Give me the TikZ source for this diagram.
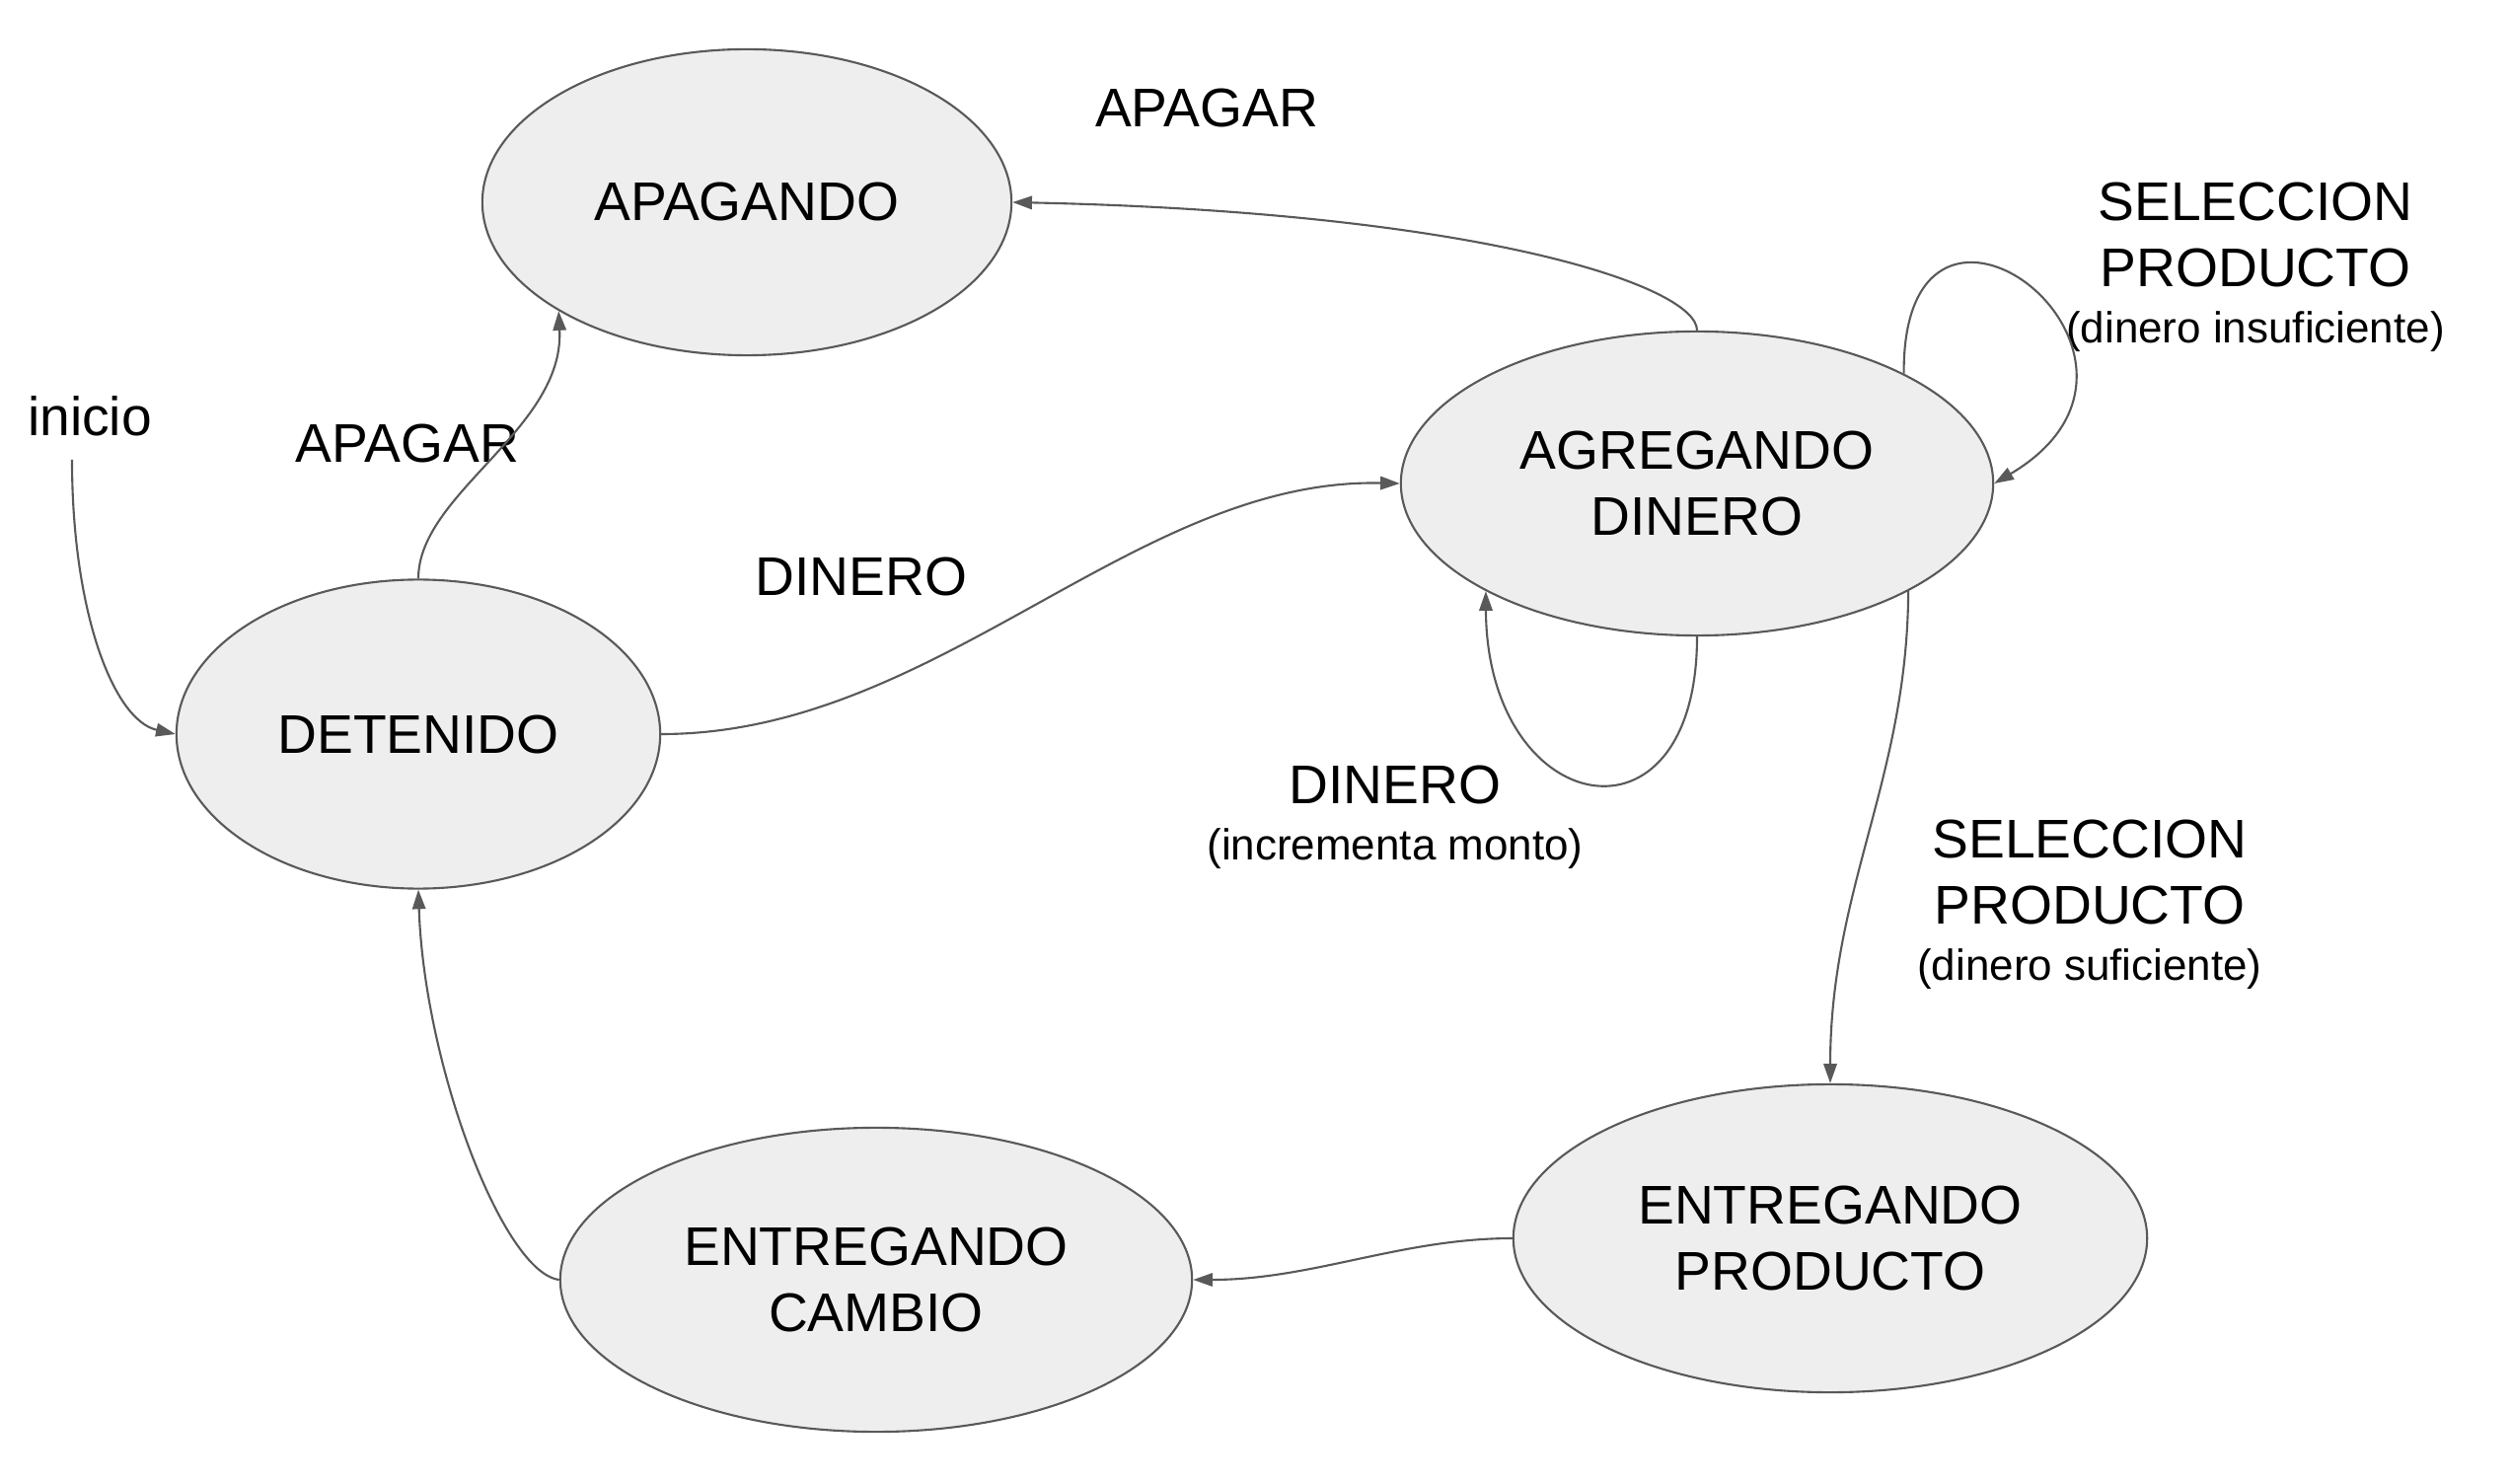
\documentclass[tikz,border=0pt]{standalone}
\usepackage{fontspec}
\setmainfont{Liberation Sans}
\usetikzlibrary{arrows.meta,positioning,shapes.geometric}
\definecolor{linegray}{HTML}{595959}
\definecolor{fillgray}{HTML}{EEEEEE}

\begin{document}
\begin{tikzpicture}[
    x=0.01cm, y=-0.01cm,
    node distance=0.24cm,
    estado/.style={ellipse, draw=linegray, line width=0.6pt, fill=fillgray,
        inner sep=0pt, align=center, font=\fontsize{15.7}{18.8}\selectfont},
    lbl/.style={inner sep=0pt, align=center, font=\fontsize{15.7}{18.8}\selectfont},
    sub/.style={inner sep=0pt, font=\fontsize{12.5}{15}\selectfont},
    arr/.style={-{Triangle[length=5.6pt, width=3.8pt]}, color=linegray, line width=0.6pt}
    ]
    \useasboundingbox (0,0) rectangle (2546,1504);
    \node[estado, minimum width=5.36cm, minimum height=3.1cm]  (apagando)  at (757,205)   {APAGANDO};
    \node[estado, minimum width=6.0cm,  minimum height=3.08cm] (agregando) at (1720,490)  {AGREGANDO\\DINERO};
    \node[estado, minimum width=4.9cm,  minimum height=3.13cm] (detenido)  at (424,744)   {DETENIDO};
    \node[estado, minimum width=6.4cm,  minimum height=3.08cm] (cambio)    at (888,1297)  {ENTREGANDO\\CAMBIO};
    \node[estado, minimum width=6.42cm, minimum height=3.12cm] (producto)  at (1855,1255) {ENTREGANDO\\PRODUCTO};

    \node[lbl] (inicio)  at (91,422)   {inicio};
    \coordinate (ini) at (73,466);
    \node[lbl] (apagar1) at (1223,110) {APAGAR};
    \node[lbl] (apagar2) at (413,450)  {APAGAR};
    \node[lbl] (dinero1) at (873,584)  {DINERO};
    \node[lbl] (dinero2) at (1414,795) {DINERO};
    \node[sub, below=of dinero2] (dinero2sub) {(incrementa monto)};
    \node[lbl] (selec1)  at (2286,238) {SELECCION\\PRODUCTO};
    \node[sub, below=of selec1]  (selec1sub)  {(dinero insuficiente)};
    \node[lbl] (selec2)  at (2118,884) {SELECCION\\PRODUCTO};
    \node[sub, below=of selec2]  (selec2sub)  {(dinero suficiente)};

    \draw[arr] (ini) .. controls (73,620) and (115,730) .. (detenido.west);
    \draw[arr] (detenido.north) .. controls (424,500) and (572,435) .. (apagando.210);
    \draw[arr] (agregando.north) .. controls (1720,290) and (1500,215) .. (apagando.east);
    \draw[arr] (detenido.east) .. controls (950,744) and (1150,484) .. (agregando.west);
    \draw[arr] (agregando.south) .. controls (1720,871) and (1507,830) .. (agregando.207);
    \draw[arr] (agregando.28) .. controls (1928,125) and (2237,362) .. (agregando.east);
    \draw[arr] (agregando.-27) .. controls (1933,790) and (1855,900) .. (producto.north);
    \draw[arr] (producto.west) .. controls (1420,1255) and (1330,1297) .. (cambio.east);
    \draw[arr] (cambio.west) .. controls (510,1290) and (430,1080) .. (detenido.south);
  \end{tikzpicture}
\end{document}
